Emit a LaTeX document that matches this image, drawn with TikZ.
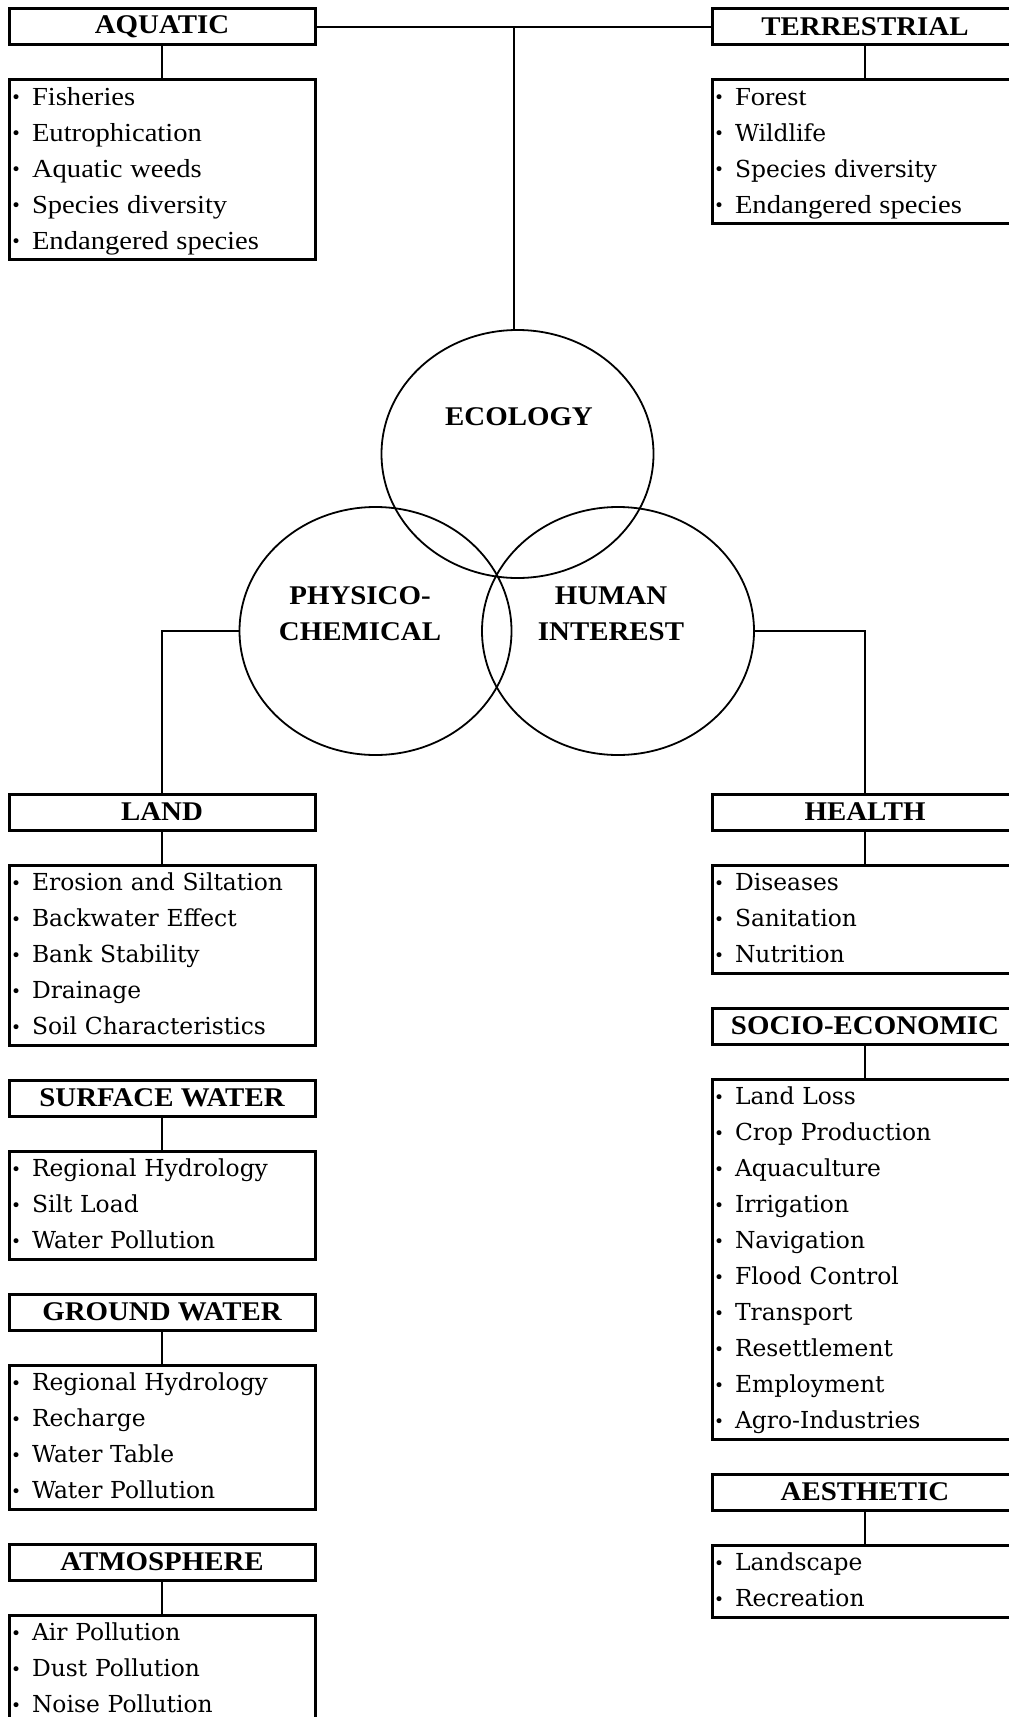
\documentclass[tikz,border=0pt]{standalone}
\usepackage{fontspec}
\setmainfont{Liberation Serif}
\newfontfamily\tmsfont{Liberation Serif}[FakeStretch=1.1]
\newfontfamily\hdfont{Liberation Serif}[FakeStretch=1.07]
\newfontfamily\btfont{DejaVu Serif}
\usetikzlibrary{shapes.geometric, positioning, calc}

\newcommand{\bul}{\strut\makebox[10.5pt][l]{\raisebox{0.6pt}{\btfont\fontsize{8.5pt}{8.5pt}\selectfont •}}}
\newcommand{\tms}[1]{{\tmsfont\fontsize{13pt}{18pt}\selectfont #1}}

\tikzset{
  headbox/.style={draw, line width=1.5pt, minimum width=153pt, minimum height=18pt, inner sep=0pt, outer sep=0pt, font=\hdfont\bfseries\fontsize{13.5pt}{16pt}\selectfont},
  itembox/.style={draw, line width=1.5pt, text width=151pt, inner xsep=1pt, inner ysep=0pt, outer sep=0pt, align=left, font=\btfont\fontsize{11.7pt}{18pt}\selectfont},
  ring/.style={ellipse, draw, line width=0.9pt, minimum width=136pt, minimum height=124pt, inner sep=0pt},
  ringtext/.style={align=center, font=\hdfont\bfseries\fontsize{13.5pt}{18pt}\selectfont},
  link/.style={line width=1pt}
}

\begin{document}
\begin{tikzpicture}[x=0.5pt, y=-0.5pt, node distance=17.5pt]
  \useasboundingbox (0,0) rectangle (1008,1717);

  % --- Top row ---
  \node[headbox, anchor=north west] (aquatic) at (9,9) {AQUATIC};
  \node[itembox, below=of aquatic] (aquaticlist) {\bul\tms{Fisheries}\\ \bul\tms{Eutrophication}\\ \bul\tms{Aquatic weeds}\\ \bul\tms{Species diversity}\\ \bul\tms{Endangered species}};

  \node[headbox, anchor=north west] (terrestrial) at (712,9) {TERRESTRIAL};
  \node[itembox, below=of terrestrial] (terrestriallist) {\bul\tms{Forest}\\ \bul Wildlife\\ \bul Species diversity\\ \bul\tms{Endangered species}};

  % --- Circles ---
  \node[ring] (ecology) at (517.5,454) {};
  \node[ring] (physico) at (375.5,631) {};
  \node[ring] (human) at (618,631) {};
  \node[ringtext] (ecologytext) at (519,417) {ECOLOGY};
  \node[ringtext] (physicotext) at (360,614) {PHYSICO-\\CHEMICAL};
  \node[ringtext] (humantext) at (611,614) {HUMAN\\INTEREST};

  % --- Left column ---
  \node[headbox, anchor=north west] (land) at (9,794) {LAND};
  \node[itembox, below=of land] (landlist) {\bul Erosion and Siltation\\ \bul Backwater Effect\\ \bul Bank Stability\\ \bul Drainage\\ \bul Soil Characteristics};
  \node[headbox, below=of landlist] (surface) {SURFACE WATER};
  \node[itembox, below=of surface] (surfacelist) {\bul Regional Hydrology\\ \bul Silt Load\\ \bul Water Pollution};
  \node[headbox, below=of surfacelist] (ground) {GROUND WATER};
  \node[itembox, below=of ground] (groundlist) {\bul Regional Hydrology\\ \bul Recharge\\ \bul Water Table\\ \bul Water Pollution};
  \node[headbox, below=of groundlist] (atmosphere) {ATMOSPHERE};
  \node[itembox, below=of atmosphere] (atmospherelist) {\bul Air Pollution\\ \bul Dust Pollution\\ \bul Noise Pollution};

  % --- Right column ---
  \node[headbox, anchor=north west] (health) at (712,794) {HEALTH};
  \node[itembox, below=of health] (healthlist) {\bul Diseases\\ \bul Sanitation\\ \bul Nutrition};
  \node[headbox, below=of healthlist] (socio) {SOCIO-ECONOMIC};
  \node[itembox, below=of socio] (sociolist) {\bul Land Loss\\ \bul Crop Production\\ \bul Aquaculture\\ \bul Irrigation\\ \bul Navigation\\ \bul Flood Control\\ \bul Transport\\ \bul Resettlement\\ \bul Employment\\ \bul Agro-Industries};
  \node[headbox, below=of sociolist] (aesthetic) {AESTHETIC};
  \node[itembox, below=of aesthetic] (aestheticlist) {\bul Landscape\\ \bul Recreation};

  % --- Connectors ---
  \coordinate (hub) at ($(aquatic.east)!0.5!(terrestrial.west)$);
  \draw[link] (aquatic) -- (terrestrial);
  \draw[link] (hub) -- (hub |- ecology.north);
  \draw[link] (physico.west) -| (land.north);
  \draw[link] (human.east) -| (health.north);
  \foreach \a in {aquatic, terrestrial, land, surface, ground, atmosphere, health, socio, aesthetic}
    \draw[link] (\a) -- (\a list);
\end{tikzpicture}
\end{document}
